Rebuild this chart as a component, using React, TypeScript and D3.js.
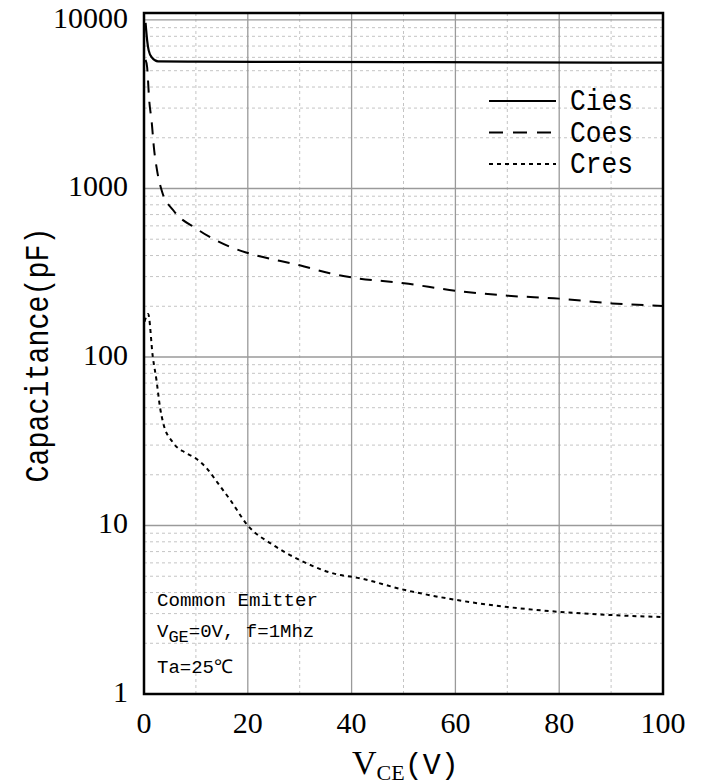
import React, { useEffect, useRef } from 'react';
import * as d3 from 'd3';

// (VCE in V, capacitance in pF)
const ciesV = [0.3, 0.6, 0.9, 1.5, 2.7, 10, 30, 50, 70, 100];
const ciesC = [9600, 7600, 6600, 6000, 5680, 5660, 5640, 5620, 5600, 5580];

const coesV = [0.3, 0.6, 1.0, 1.5, 1.9, 2.5, 3.5, 5.6, 10.2, 16.6, 20, 30, 35.8, 40.2, 50.1, 60.1, 70.1, 80, 90.2, 100];
const coesC = [5800, 5260, 3350, 2450, 1760, 1290, 953, 745, 575, 450, 414, 350, 314, 296, 274, 247, 231, 222, 208, 201];

const cresV = [0.1, 0.8, 1.7, 2.4, 3.1, 3.7, 5.6, 8, 10, 12, 14.2, 16.6, 20, 24.9, 30, 37.8, 40.3, 50.3, 60.3, 70.1, 80.2, 90.2, 100];
const cresC = [162, 180, 100, 73, 50, 40.6, 31, 27, 25, 22, 17.9, 14.2, 10, 7.66, 6.24, 5.08, 4.95, 4.14, 3.61, 3.28, 3.07, 2.94, 2.86];

const xTicks = [0, 20, 40, 60, 80, 100];
const xMinor = [10, 30, 50, 70, 90];
const yTicks = [1, 10, 100, 1000, 10000];

const seriesNames = ['Cies', 'Coes', 'Cres'];
const dashes = ['none', '12,9', '4,4'];

const W = 705, H = 784;
const left = 144, right = 663, top = 13, bottom = 694;

export default function App() {
  const gRef = useRef<SVGGElement>(null);

  useEffect(() => {
    const svg = d3.select(gRef.current);
    svg.selectAll('*').remove();

    const x = d3.scaleLinear().domain([0, 100]).range([left, right]);
    const y = d3.scaleLog().domain([1, 11000]).range([bottom, top]);

    const grid = svg.append('g');
    // minor y grid: 2..9 in every decade
    const yMinor: number[] = [];
    yTicks.forEach(d => { for (let k = 2; k <= 9; k++) if (d * k < 11000) yMinor.push(d * k); });
    grid.selectAll('.ym').data(yMinor).enter().append('line')
      .attr('x1', left).attr('x2', right)
      .attr('y1', d => y(d)).attr('y2', d => y(d))
      .attr('stroke', '#c4c4c4').attr('stroke-width', 1).attr('stroke-dasharray', '3,3');
    grid.selectAll('.xm').data(xMinor).enter().append('line')
      .attr('x1', d => x(d)).attr('x2', d => x(d))
      .attr('y1', top).attr('y2', bottom)
      .attr('stroke', '#c4c4c4').attr('stroke-width', 1).attr('stroke-dasharray', '3,3');
    grid.selectAll('.yM').data(yTicks.slice(1)).enter().append('line')
      .attr('x1', left).attr('x2', right)
      .attr('y1', d => y(d)).attr('y2', d => y(d))
      .attr('stroke', '#9a9a9a').attr('stroke-width', 1.3);
    grid.selectAll('.xM').data(xTicks.slice(1, -1)).enter().append('line')
      .attr('x1', d => x(d)).attr('x2', d => x(d))
      .attr('y1', top).attr('y2', bottom)
      .attr('stroke', '#9a9a9a').attr('stroke-width', 1.3);

    const line = d3.line<[number, number]>()
      .x(d => x(d[0])).y(d => y(d[1]))
      .curve(d3.curveMonotoneX);

    const series = [
      d3.zip(ciesV, ciesC) as [number, number][],
      d3.zip(coesV, coesC) as [number, number][],
      d3.zip(cresV, cresC) as [number, number][],
    ];
    svg.append('g').selectAll('path').data(series).enter().append('path')
      .attr('d', d => line(d))
      .attr('fill', 'none')
      .attr('stroke', '#000')
      .attr('stroke-width', (d, i) => i == 0 ? 2.2 : 2)
      .attr('stroke-dasharray', (d, i) => dashes[i]);

    // frame
    svg.append('rect')
      .attr('x', left).attr('y', top)
      .attr('width', right - left).attr('height', bottom - top)
      .attr('fill', 'none').attr('stroke', '#000').attr('stroke-width', 2.5);

    // tick labels
    svg.append('g').selectAll('text').data(yTicks).enter().append('text')
      .attr('x', 128).attr('y', d => y(d) + 1)
      .attr('text-anchor', 'end').attr('dominant-baseline', 'middle')
      .attr('font-family', 'Liberation Serif').attr('font-size', 30)
      .text(d => d);
    svg.append('g').selectAll('text').data(xTicks).enter().append('text')
      .attr('x', d => x(d)).attr('y', 733)
      .attr('text-anchor', 'middle')
      .attr('font-family', 'Liberation Serif').attr('font-size', 30)
      .text(d => d);

    // legend
    const lg = svg.append('g');
    seriesNames.forEach((name, i) => {
      const ly = 101 + i * 31.5;
      lg.append('line')
        .attr('x1', 489).attr('x2', 556).attr('y1', ly).attr('y2', ly)
        .attr('stroke', '#000').attr('stroke-width', 2)
        .attr('stroke-dasharray', i == 1 ? '14,10' : dashes[i]);
      lg.append('text')
        .attr('x', 570).attr('y', ly + 9)
        .attr('font-family', 'Liberation Mono').attr('font-size', 29)
        .attr('textLength', 63).attr('lengthAdjust', 'spacingAndGlyphs')
        .text(name);
    });
  }, []);

  const mono = 'Liberation Mono';
  return (
    <svg width={W} height={H} style={{ display: 'block', position: 'absolute', left: 0, top: 0, background: '#fff' }}>
      <g ref={gRef}></g>
      <g id="labels">
        <text x={157} y={606} fontFamily={mono} fontSize={19} textLength={161} lengthAdjust="spacingAndGlyphs">Common Emitter</text>
        <text x={157} y={637} fontFamily={mono} fontSize={19}>
          V<tspan fontSize={17} dy={5}>GE</tspan><tspan dy={-5}>=0V, f=1Mhz</tspan>
        </text>
        <text x={157} y={673} fontFamily={mono} fontSize={19}>Ta=25℃</text>
        <text transform="translate(48,355) rotate(-90)" textAnchor="middle" fontFamily={mono} fontSize={34}
          textLength={255} lengthAdjust="spacingAndGlyphs">Capacitance(pF)</text>
        <text x={352} y={774} fontFamily="Liberation Serif" fontSize={34}>
          V<tspan fontSize={22} dy={6}>CE</tspan><tspan dy={-6} fontFamily={mono} fontSize={30}>(V)</tspan>
        </text>
      </g>
    </svg>
  );
}
